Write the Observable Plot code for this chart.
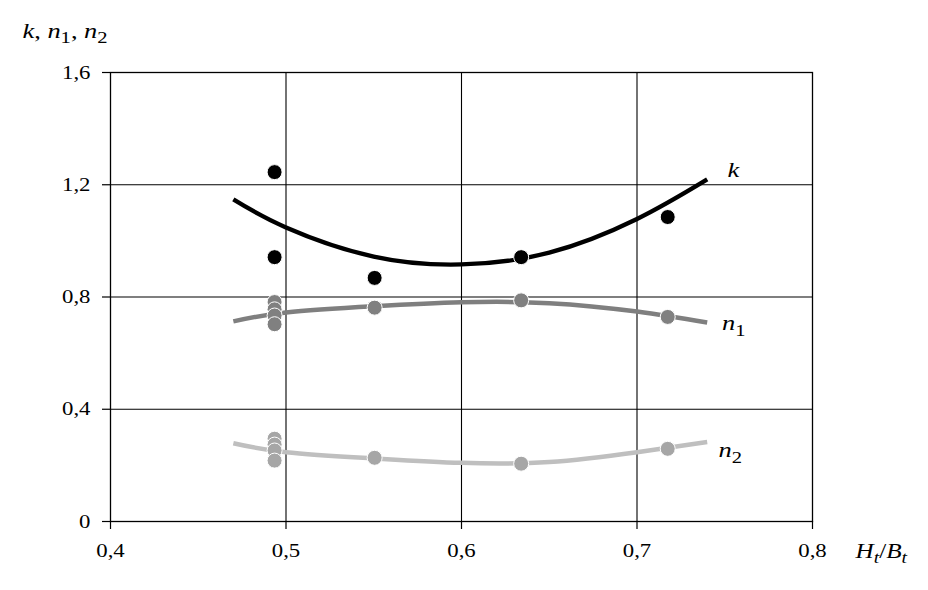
<!DOCTYPE html>
<html>
<head>
<meta charset="utf-8">
<script src="https://cdn.jsdelivr.net/npm/d3@7"></script>
<script src="https://cdn.jsdelivr.net/npm/@observablehq/plot@0.6"></script>
<style>
  html, body { margin: 0; padding: 0; background: white; overflow: hidden; }
  #chart svg { display: block; }
  #chart svg text { font-family: "Liberation Serif", "Times New Roman", serif !important; }
  #chart svg g[aria-label="x-axis tick label"],
  #chart svg g[aria-label="y-axis tick label"] { font-size: 19px !important; }
</style>
</head>
<body>
<div id="chart"></div>
<script>
// ---- data ----
const xTicks = [0.4, 0.5, 0.6, 0.7, 0.8];
const yTicks = [0, 0.4, 0.8, 1.2, 1.6];

// measured points
const kDotX  = [0.4935, 0.4935, 0.5505, 0.634, 0.7175];
const kDotY  = [1.245, 0.942, 0.868, 0.942, 1.085];
const n1DotX = [0.4935, 0.4935, 0.4935, 0.4935, 0.5505, 0.634, 0.7175];
const n1DotY = [0.782, 0.756, 0.734, 0.703, 0.762, 0.788, 0.729];
const n2DotX = [0.4935, 0.4935, 0.4935, 0.4935, 0.5505, 0.634, 0.7175];
const n2DotY = [0.295, 0.274, 0.253, 0.217, 0.227, 0.206, 0.259];

// fitted curves
const curveX  = [0.47, 0.50, 0.55, 0.60, 0.65, 0.70, 0.74];
const kCurve  = [1.148, 1.048, 0.944, 0.916, 0.958, 1.078, 1.219];
const n1Curve = [0.713, 0.745, 0.767, 0.781, 0.778, 0.748, 0.709];
const n2Curve = [0.279, 0.247, 0.225, 0.209, 0.212, 0.247, 0.283];

// labels
const curveLabelText = ["k", "n_1", "n_2"];
const curveLabelX    = [0.7515, 0.7485, 0.7465];
const curveLabelY    = [1.229, 0.681, 0.229];
const yTitle = "k, n_1, n_2";
const xTitle = "H_t/B_t";

const fmt = d => String(d).replace(".", ",");
const serif = "Liberation Serif, Times New Roman, serif";

const chart = Plot.plot({
  width: 928,
  height: 590,
  marginLeft: 110,
  marginRight: 116,
  marginTop: 72,
  marginBottom: 69,
  x: {domain: [0.4, 0.8]},
  y: {domain: [0, 1.6]},
  style: {fontFamily: serif, fontSize: "19px", background: "white", color: "black"},
  marks: [
    Plot.gridX([0.5, 0.6, 0.7], {stroke: "black", strokeOpacity: 1, strokeWidth: 1.1}),
    Plot.gridY([0.4, 0.8, 1.2], {stroke: "black", strokeOpacity: 1, strokeWidth: 1.1}),
    Plot.frame({stroke: "black", strokeWidth: 1.3}),
    Plot.axisX(xTicks, {tickSize: 8, tickPadding: 14, tickFormat: fmt, label: null, fontSize: 19, strokeWidth: 1.2}),
    Plot.axisY(yTicks, {tickSize: 8, tickPadding: 12, tickFormat: fmt, label: null, fontSize: 19, strokeWidth: 1.2}),
    Plot.line(curveX, {x: curveX, y: kCurve, curve: "natural", stroke: "black", strokeWidth: 4.3, strokeLinecap: "butt"}),
    Plot.line(curveX, {x: curveX, y: n1Curve, curve: "natural", stroke: "#7f7f7f", strokeWidth: 4.5, strokeLinecap: "butt"}),
    Plot.line(curveX, {x: curveX, y: n2Curve, curve: "natural", stroke: "#bfbfbf", strokeWidth: 4.5, strokeLinecap: "butt"}),
    Plot.dot(kDotX, {x: kDotX, y: kDotY, r: 7.5, fill: "black", stroke: "white", strokeWidth: 1}),
    Plot.dot(n1DotX, {x: n1DotX, y: n1DotY, r: 7.5, fill: "#808080", stroke: "white", strokeWidth: 1}),
    Plot.dot(n2DotX, {x: n2DotX, y: n2DotY, r: 7.5, fill: "#a6a6a6", stroke: "white", strokeWidth: 1}),
    Plot.text(curveLabelText, {x: curveLabelX, y: curveLabelY, text: curveLabelText, textAnchor: "start", lineAnchor: "bottom", fontSize: 22}),
    Plot.text([yTitle], {frameAnchor: "top-left", text: d => d, dx: -88, dy: -35, textAnchor: "start", lineAnchor: "bottom", fontSize: 22}),
    Plot.text([xTitle], {frameAnchor: "bottom-right", text: d => d, dx: 43, dy: 36, textAnchor: "start", lineAnchor: "bottom", fontSize: 21})
  ]
});

// Rich text: letters italic, "_" makes the next character a subscript
function richify(el) {
  const str = el.textContent;
  const fs = parseFloat(el.parentNode.getAttribute("font-size")) || 22;
  const shift = fs * 0.24;
  el.textContent = "";
  let sub = false, down = false;
  for (let i = 0; i < str.length; i++) {
    let ch = str[i];
    if (ch === "_") { sub = true; continue; }
    const t = document.createElementNS("http://www.w3.org/2000/svg", "tspan");
    t.textContent = ch;
    if (/[A-Za-z]/.test(ch)) t.setAttribute("font-style", "italic");
    if (sub && !down) { t.setAttribute("dy", shift); down = true; }
    else if (!sub && down) { t.setAttribute("dy", -shift); down = false; }
    if (sub) t.setAttribute("style", "font-size:" + (fs * 0.78) + "px");
    el.appendChild(t);
    sub = false;
  }
}
const svg = d3.select(chart);
svg.selectAll('g[aria-label="text"] text').each(function() { richify(this); });

// the reference lettering is horizontally widened; stretch each label about its anchor
svg.selectAll('g[aria-label="text"] text, g[aria-label="x-axis tick label"] text, g[aria-label="y-axis tick label"] text')
  .each(function() {
    const tr = this.getAttribute("transform");
    if (tr) this.setAttribute("transform", tr + " scale(1.2,1)");
  });

document.getElementById("chart").appendChild(chart);
</script>
</body>
</html>
